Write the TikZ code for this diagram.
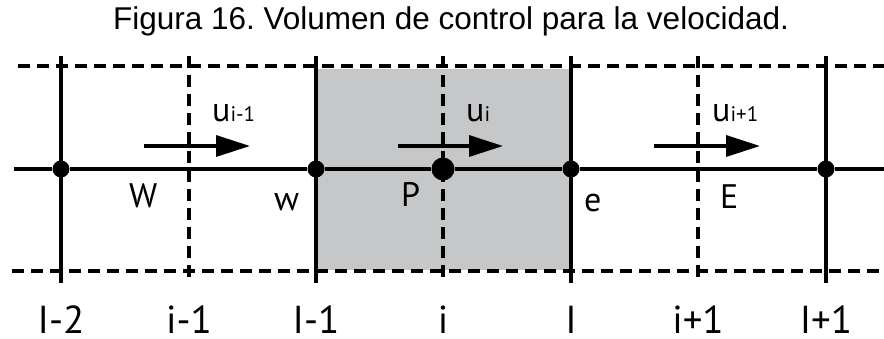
\documentclass[tikz,border=0pt]{standalone}
\usepackage{fontspec}
\setmainfont{Liberation Sans}
\newfontfamily\gridfont{PT Sans}
\usetikzlibrary{arrows.meta}

\definecolor{cvgray}{RGB}{198,199,201}

\tikzset{
    solidline/.style={line width=3.4pt},
    dashline/.style={line width=3.4pt, dash pattern=on 12pt off 7pt},
    gridnode/.style={circle, fill=black, inner sep=0pt, minimum size=17pt},
    mainnode/.style={gridnode, minimum size=23pt},
    velarrow/.style={line width=3.4pt, -{Triangle[length=34pt,width=21pt]}},
    lbl/.style={anchor=base west, inner sep=0pt, font=\gridfont\fontsize{34}{34}\selectfont},
    idx/.style={anchor=base, inner sep=0pt, font=\gridfont\fontsize{39}{39}\selectfont}
}
\newcommand{\sub}[1]{{\fontsize{21}{21}\selectfont #1}}

\begin{document}
\frenchspacing
\begin{tikzpicture}[x=1pt, y=-1pt]
    \useasboundingbox (0,0) rectangle (884,339);

    \node[anchor=base, inner sep=0pt, font=\fontsize{31.5}{31.5}\selectfont] (title) at (451,30)
        {Figura 16. Volumen de control para la velocidad.};

    % control volume for u_i
    \fill[cvgray] (316,69) rectangle (571,270);

    % scalar faces (solid) and velocity faces (dashed)
    \foreach \x in {61,316,571,826}
        \draw[solidline] (\x,56) -- (\x,283);
    \foreach \x in {189,443,698}
        \draw[dashline] (\x,56) -- (\x,283);
    \draw[dashline] (18,66) -- (884,66);
    \draw[dashline] (12,271) -- (884,271);

    % grid line with its nodes
    \coordinate (left) at (14,169);
    \coordinate (right) at (884,169);
    \node[gridnode] (W) at (61,169) {};
    \node[gridnode] (w) at (316,169) {};
    \node[mainnode] (P) at (443,169) {};
    \node[gridnode] (e) at (571,169) {};
    \node[gridnode] (E) at (826,169) {};
    \draw[solidline] (left) -- (W) -- (w) -- (P) -- (e) -- (E) -- (right);

    % velocities
    \coordinate (uim1a) at (144,146);
    \coordinate (uim1b) at (250,146);
    \coordinate (uia) at (398,146);
    \coordinate (uib) at (503,146);
    \coordinate (uip1a) at (654,146);
    \coordinate (uip1b) at (760,146);
    \draw[velarrow] (uim1a) -- (uim1b);
    \draw[velarrow] (uia) -- (uib);
    \draw[velarrow] (uip1a) -- (uip1b);

    \node[lbl] (lum1) at (212,122) {u\sub{i-1}};
    \node[lbl] (lu) at (466,122) {u\sub{i}};
    \node[lbl] (lup1) at (712,122) {u\sub{i+1}};

    \node[lbl] (lW) at (129,208) {W};
    \node[lbl] (lw) at (274,211) {w};
    \node[lbl] (lP) at (401,207) {P};
    \node[lbl] (le) at (584,212) {e};
    \node[lbl] (lE) at (720,209) {E};

    % indices
    \node[idx] (I2) at (61,334) {I-2};
    \node[idx] (i1) at (189,334) {i-1};
    \node[idx] (I1) at (316,334) {I-1};
    \node[idx] (i0) at (443,334) {i};
    \node[idx] (I0) at (571,334) {I};
    \node[idx] (ip) at (698,334) {i+1};
    \node[idx] (Ip) at (826,334) {I+1};
\end{tikzpicture}
\end{document}
